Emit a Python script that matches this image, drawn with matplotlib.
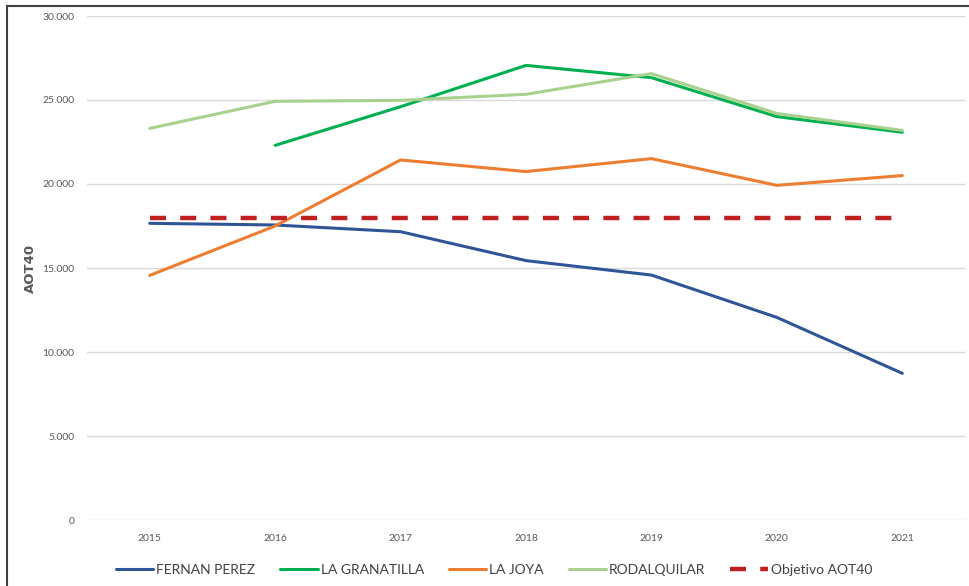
"""
AOT40 por estación (2015-2021) frente al objetivo AOT40.
"""

import matplotlib
matplotlib.use("Agg")
import matplotlib.pyplot as plt
from matplotlib.lines import Line2D
from matplotlib.ticker import FuncFormatter, MultipleLocator
import numpy as np


# ============================================================
# DATA
# ============================================================

YEARS = ["2015", "2016", "2017", "2018", "2019", "2020", "2021"]

FERNAN_PEREZ = [17660, 17560, 17160, 15440, 14580, 12060, 8730]
LA_GRANATILLA = [np.nan, 22300, 24600, 27060, 26330, 24010, 23080]
LA_JOYA = [14560, 17500, 21430, 20740, 21510, 19920, 20500]
RODALQUILAR = [23310, 24920, 24980, 25340, 26570, 24200, 23190]
OBJETIVO = [18000, 18000, 18000, 18000, 18000, 18000, 18000]

SERIES = [
    ("FERNAN PEREZ", FERNAN_PEREZ, "#2F5597"),
    ("LA GRANATILLA", LA_GRANATILLA, "#00B050"),
    ("LA JOYA", LA_JOYA, "#ED7D31"),
    ("RODALQUILAR", RODALQUILAR, "#A9D18E"),
]

GRAY = "#595959"
GRID = "#D9D9D9"


def thousands(v, _pos):
    return f"{int(v):,}".replace(",", ".")


# ============================================================
# FIGURE
# ============================================================

plt.rcParams["font.family"] = ["Lato", "DejaVu Sans"]

fig = plt.figure(figsize=(9.69, 5.86), dpi=100)
ax = fig.add_axes([87 / 969, 66 / 586, 878 / 969, 504 / 586])

x = np.arange(len(YEARS))

for name, values, color in SERIES:
    ax.plot(x, values, color=color, linewidth=2.2, label=name,
            solid_capstyle="round")

ax.plot(x, OBJETIVO, color="#C0201F", linewidth=3.2, linestyle=(0, (3.6, 3.2)),
        label="Objetivo AOT40")

ax.set_xlim(-0.5, len(YEARS) - 0.5)
ax.set_ylim(0, 30000)
ax.yaxis.set_major_locator(MultipleLocator(5000))
ax.yaxis.set_major_formatter(FuncFormatter(thousands))
ax.set_xticks(x)
ax.set_xticklabels(YEARS)

ax.grid(axis="y", color=GRID, linewidth=1.0)
ax.set_axisbelow(True)
for side in ["top", "right", "left", "bottom"]:
    ax.spines[side].set_visible(False)
ax.tick_params(axis="both", length=0, labelsize=7.5, labelcolor=GRAY)
ax.tick_params(axis="y", pad=9)
ax.tick_params(axis="x", pad=10)

ax.set_ylabel("AOT40", fontsize=9.5, fontweight="bold", color=GRAY,
              family=["DejaVu Sans"])
ax.yaxis.set_label_coords(-50 / 878, 0.5)

fig.legend(
    loc="center",
    bbox_to_anchor=(494 / 969, 16 / 586),
    ncol=5,
    frameon=False,
    fontsize=10,
    handlelength=2.7,
    handletextpad=0.2,
    columnspacing=1.8,
    labelcolor="#404040",
)

# outer chart frame (only top and left edges fall inside the picture)
fig.add_artist(Line2D([7 / 969, 1.0], [1 - 6 / 586, 1 - 6 / 586],
                      transform=fig.transFigure, color="#404040", linewidth=1.5))
fig.add_artist(Line2D([7 / 969, 7 / 969], [0.0, 1 - 6 / 586],
                      transform=fig.transFigure, color="#404040", linewidth=1.5))

fig.savefig("out.png", dpi=100)
plt.close(fig)
